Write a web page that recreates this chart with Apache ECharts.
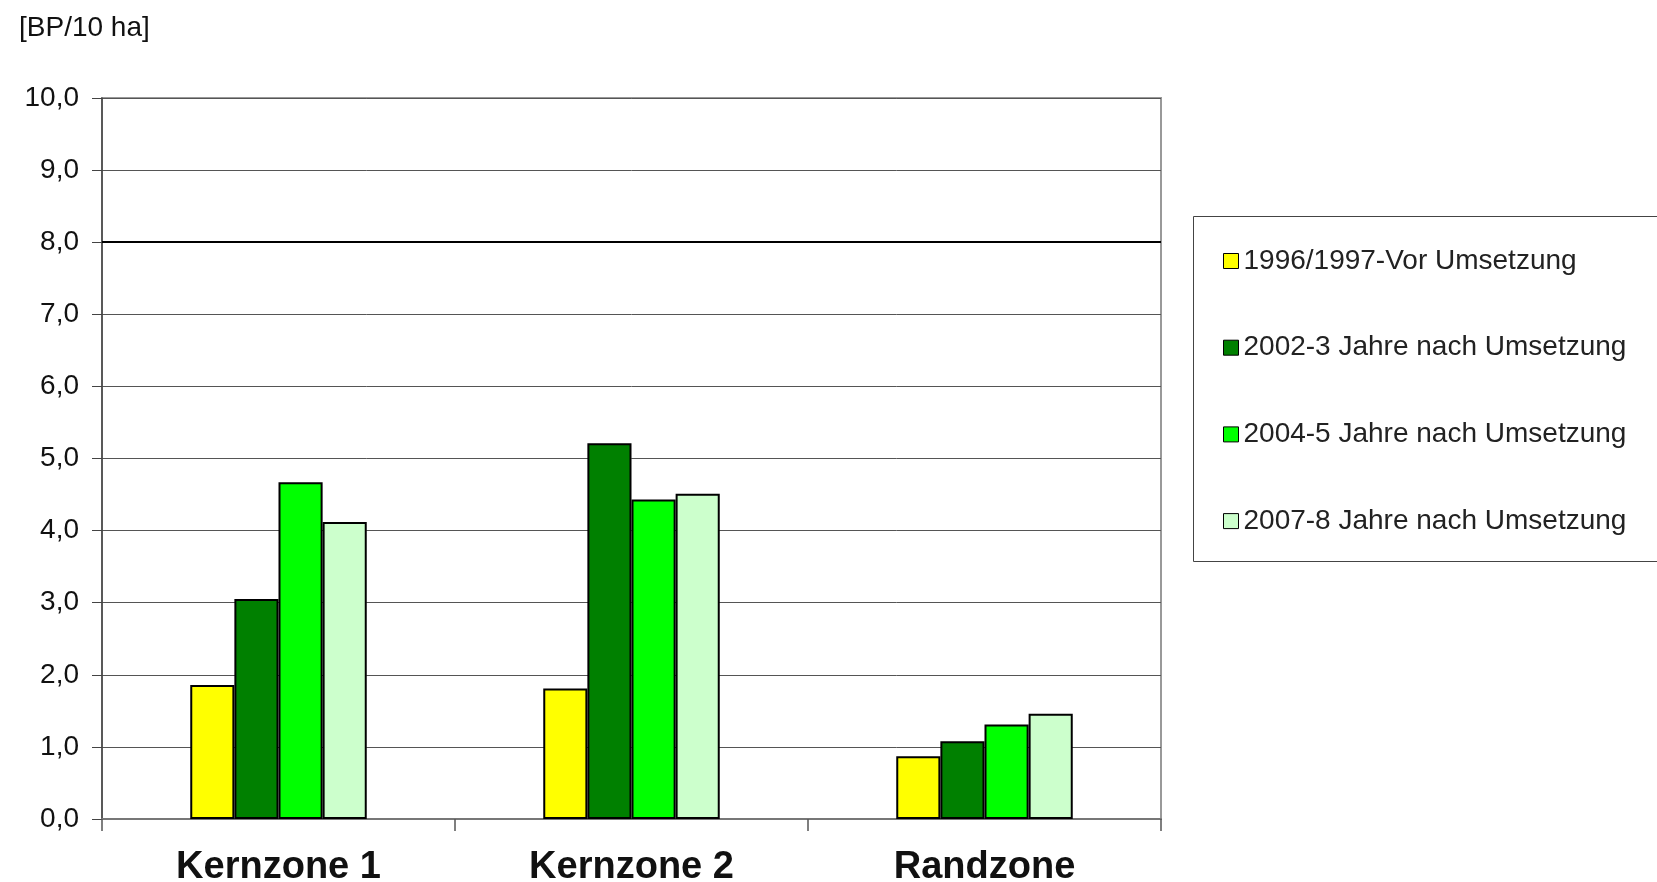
<!DOCTYPE html>
<html>
<head>
<meta charset="utf-8">
<script src="https://cdn.jsdelivr.net/npm/echarts@6/dist/echarts.min.js"></script>
<style>
  html, body { margin: 0; padding: 0; background: #fff; }
  #chart { width: 1657px; height: 882px; }
</style>
</head>
<body>
<div id="chart"></div>
<script>
// Kategorien und Werte (BP/10 ha)
const zones = ['Kernzone 1', 'Kernzone 2', 'Randzone']
const seriesNames = [
  '1996/1997-Vor Umsetzung',
  '2002-3 Jahre nach Umsetzung',
  '2004-5 Jahre nach Umsetzung',
  '2007-8 Jahre nach Umsetzung'
]
const vals1996 = [1.86, 1.81, 0.87]
const vals2002 = [3.05, 5.21, 1.08]
const vals2004 = [4.67, 4.43, 1.31]
const vals2007 = [4.12, 4.51, 1.46]
const colors = ['#FFFF00', '#008000', '#00FF00', '#CCFFCC']

const FONT = '"Liberation Sans", Arial, sans-serif'

const chart = echarts.init(document.getElementById('chart'))

const allValues = [vals1996, vals2002, vals2004, vals2007]

const series = allValues.map(function (data, i) {
  const s = {
    name: seriesNames[i],
    type: 'bar',
    data: data,
    barGap: '0%',
    barCategoryGap: '50%',
    itemStyle: {
      color: colors[i],
      borderColor: '#000',
      borderWidth: 2
    }
  }
  if (i === 0) {
    // die 8,0-Linie ist im Original schwarz hervorgehoben
    s.markLine = {
      silent: true,
      symbol: 'none',
      label: { show: false },
      lineStyle: { color: '#000', width: 2, type: 'solid' },
      data: [{ yAxis: 8 }]
    }
  }
  return s
})

chart.setOption({
  backgroundColor: '#fff',
  animation: false,
  title: {
    text: '[BP/10 ha]',
    left: 14,
    top: 9,
    textStyle: {
      fontFamily: FONT,
      fontWeight: 'normal',
      fontSize: 28,
      color: '#111'
    }
  },
  graphic: [{
    type: 'rect',
    shape: { x: 1193.5, y: 216.5, width: 520, height: 345 },
    style: { fill: '#fff', stroke: '#444', lineWidth: 1 },
    z: -1
  }],
  legend: {
    orient: 'vertical',
    left: 1218,
    top: 241,
    itemWidth: 15,
    itemHeight: 15,
    itemGap: 56.7,
    icon: 'rect',
    itemStyle: { borderColor: '#000', borderWidth: 1 },
    textStyle: {
      fontFamily: FONT,
      fontSize: 28,
      lineHeight: 30,
      color: '#222'
    },
    data: seriesNames
  },
  grid: {
    left: 102,
    right: 496,
    top: 98,
    bottom: 63,
    outerBoundsMode: 'none',
    containLabel: false,
    show: true,
    borderColor: '#999',
    borderWidth: 2,
    backgroundColor: '#fff'
  },
  xAxis: {
    type: 'category',
    data: zones,
    axisLine: { lineStyle: { color: '#777', width: 2 } },
    axisTick: { show: true, length: 12, lineStyle: { color: '#555', width: 1.5 } },
    axisLabel: {
      margin: 30,
      fontFamily: FONT,
      fontWeight: 'bold',
      fontSize: 38,
      color: '#111'
    }
  },
  yAxis: {
    type: 'value',
    min: 0,
    max: 10,
    interval: 1,
    axisLine: { show: true, lineStyle: { color: '#444', width: 1.5 } },
    axisTick: { show: true, length: 10, lineStyle: { color: '#444', width: 1 } },
    axisLabel: {
      margin: 23,
      fontFamily: FONT,
      fontSize: 28,
      color: '#111',
      formatter: function (v) {
        return v.toFixed(1).replace('.', ',')
      }
    },
    splitLine: { lineStyle: { color: '#555', width: 1 } }
  },
  series: series
})
</script>
</body>
</html>
